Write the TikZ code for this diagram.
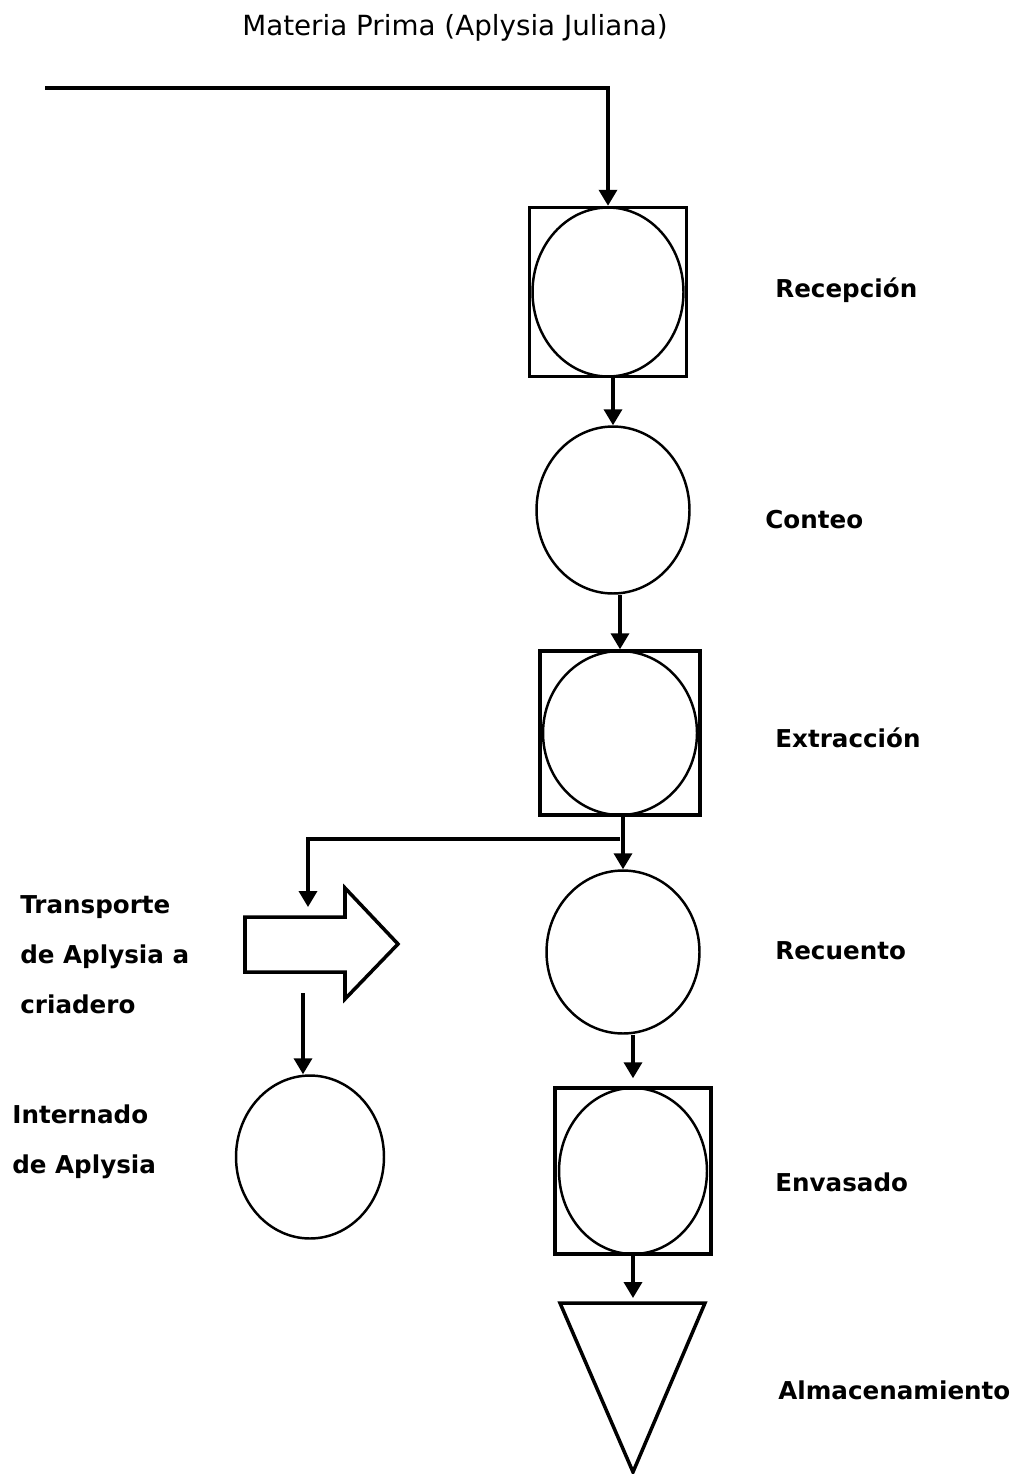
\documentclass[tikz,border=0pt]{standalone}
\usepackage{fontspec}
\setmainfont{DejaVu Sans}
\usetikzlibrary{arrows.meta,shapes.geometric,calc}

\tikzset{
  opbox/.style={draw, line width=2pt, inner sep=0pt},
  opcirc/.style={ellipse, draw, line width=1.4pt, inner sep=0pt},
  etiqueta/.style={anchor=west, inner sep=0pt, font=\fontsize{14}{28.5}\selectfont\bfseries, align=left},
  flujo/.style={-{Triangle[width=0.36cm,length=0.32cm]}, line width=2pt}
}

\begin{document}
\begin{tikzpicture}[x=0.02cm, y=-0.02cm]
  \useasboundingbox (0,0) rectangle (1020,1474);

  \node (titulo) at (455,28) {\fontsize{15.8}{18}\selectfont Materia Prima (Aplysia Juliana)};

  % columna principal
  \node[opbox, minimum width=3.14cm, minimum height=3.38cm] (recep box) at (608,292) {};
  \node[opcirc, minimum width=3.02cm, minimum height=3.38cm] (recep) at (608,292) {};
  \node[opcirc, minimum width=3.06cm, minimum height=3.34cm] (conteo) at (613,510) {};
  \node[opbox, minimum width=3.2cm, minimum height=3.28cm] (extr box) at (620,733) {};
  \node[opcirc, minimum width=3.08cm, minimum height=3.28cm] (extr) at (620,733) {};
  \node[opcirc, minimum width=3.06cm, minimum height=3.26cm] (recuento) at (623,952) {};
  \node[opbox, minimum width=3.12cm, minimum height=3.32cm] (envas box) at (633,1171) {};
  \node[opcirc, minimum width=2.96cm, minimum height=3.32cm] (envas) at (633,1171) {};
  \draw[line width=2pt, line join=miter] (560,1303) -- (705,1303) -- (633,1472) -- cycle;
  \coordinate (almac) at (633,1303);

  % rama izquierda
  \draw[line width=2pt] (245,917) -- (345,917) -- (345,888) -- (398,944)
    -- (345,999) -- (345,972) -- (245,972) -- cycle;
  \coordinate (transp in) at (308,917);
  \coordinate (transp out) at (303,993);
  \node[opcirc, minimum width=2.96cm, minimum height=3.26cm] (intern) at (310,1157) {};

  % etiquetas
  \node[etiqueta] (l recep) at (775,290) {Recepción};
  \node[etiqueta] (l conteo) at (765,520) {Conteo};
  \node[etiqueta] (l extr) at (775,738) {Extracción};
  \node[etiqueta] (l recuento) at (775,951) {Recuento};
  \node[etiqueta] (l envas) at (775,1182) {Envasado};
  \node[etiqueta] (l almac) at (778,1390) {Almacenamiento};
  \node[etiqueta] (l transp) at (20,955) {Transporte\\de Aplysia a\\criadero};
  \node[etiqueta] (l intern) at (12,1142) {Internado\\de Aplysia};

  % flujos
  \coordinate (entrada) at (45,88);
  \coordinate (ramal) at ($(extr box.south)+(0,22)$);
  \draw[flujo] (entrada) -| (recep box.north);
  \draw[flujo] (conteo.north |- recep box.south) -- (conteo.north);
  \draw[flujo] (extr box.north |- conteo.south) -- (extr box.north);
  \draw[flujo] (recuento.north |- extr box.south) -- (recuento.north);
  \draw[flujo, shorten >=0.2cm] (ramal) -| (transp in);
  \draw[flujo] (transp out) -- (transp out |- intern.north);
  \draw[flujo, shorten >=0.16cm] (envas box.north |- recuento.south) -- (envas box.north);
  \draw[flujo, shorten >=0.1cm] (envas box.south) -- (almac);
\end{tikzpicture}
\end{document}
